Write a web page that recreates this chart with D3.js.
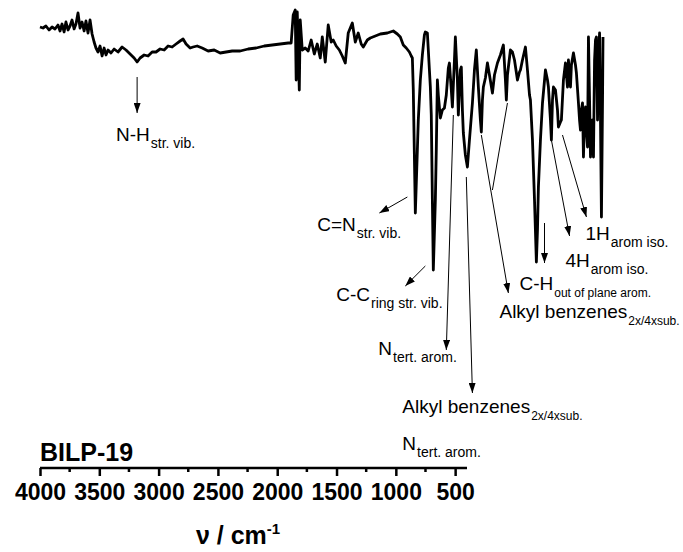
<!DOCTYPE html>
<html><head><meta charset="utf-8">
<script src="https://cdn.jsdelivr.net/npm/d3@7"></script>
<style>body{margin:0;background:#fff} svg{display:block}</style>
</head><body>
<svg id="c" width="683" height="552"></svg>
<script>
// ---- data (wavenumber in cm^-1, transmittance in arbitrary units) ----
const wavenumber = [4000,3981,3962,3942,3923,3904,3885,3872,3859,3846,3834,3821,3808,3795,3782,3770,3757,3744,3731,3718,3706,3693,3680,3667,3654,3642,3629,3616,3603,3590,3578,3565,3546,3526,3501,3475,3450,3424,3398,3379,3360,3334,3309,3283,3258,3232,3206,3181,3155,3130,3104,3085,3066,3040,3021,2995,2963,2925,2886,2848,2810,2771,2720,2669,2618,2566,2515,2464,2413,2394,2381,2368,2362,2355,2342,2336,2323,2304,2285,2266,2246,2227,2208,2195,2176,2157,2138,2125,2106,2086,2067,2048,2029,2003,1984,1965,1946,1933,1907,1888,1856,1824,1779,1741,1715,1696,1677,1658,1638,1626,1619,1613,1600,1587,1581,1568,1555,1542,1536,1523,1510,1504,1498,1491,1485,1472,1466,1459,1453,1440,1427,1414,1402,1389,1382,1370,1363,1350,1344,1331,1325,1312,1306,1299,1293,1280,1267,1254,1235,1222,1210,1197,1184,1178,1171,1165,1152,1139,1126,1107,1094,1075,1056,1037,1024,1018,1011,992,979,966,947,934,928,915,896,883,870,864,851,838,826,819,813,800,787,768,755,749,736,730,723,717,704,691,685,672,666,653,640,634,627,621,608,602,589,576,570,557,550,544,538,531,525,518,512,506,499,493,486,480,474,467,461,454,448,442,435,429,422,416,410,403,400];
const transmittance = [109.2,108.8,109.6,108,109.2,108.4,110,107.6,110.4,107.2,111.2,108,109.6,112,108.4,110.4,114.8,108.8,111.2,107.6,111.6,106.8,112,106.4,103.2,100.8,99.2,101.6,97.6,100.8,98,100,98.8,100.4,99.2,101.2,100,98.4,96.8,95.2,96.8,98,97.6,99.2,99.2,100.4,100,101.6,101.2,102.4,103.6,104.4,102.4,100.8,101.2,101.6,100.8,99.6,100,98.8,99.2,99.6,99.6,100.4,100.8,101.6,102,102.4,102.8,102.8,114,116,88,115.2,84,112,100,100.8,99.6,104,98.4,102.4,96.8,105.2,95.2,110,103.2,104,101.6,100,97.6,94.8,106.8,110.8,103.2,106.8,102.4,101.2,104,104.8,105.6,106.4,106.8,107.6,106.4,105.2,102,100.8,99.2,97.6,96.8,84,34.8,60,72,88,98,106,107.2,106.8,92,85.2,74,40,12,40,60,88,82,72.8,76,76.8,82,92.8,94.8,84,77.2,96,105.2,88,74,92,93.2,76,66.8,58,53.2,64,78.8,92,100,85.2,72,67.2,80,85.2,88.8,94.8,90,82.8,90,94.8,98,102,88,80,90,100,99.2,96,88,91.2,92,96,101.2,92,82,80,64,40,15.2,28,45.2,64,78.8,92,88,85.2,72,64,80,85.2,84,76,69.2,71.2,72,88,94.8,90,85.2,96,85.2,94,98.8,94,90.8,78.8,72,68,76,78.8,57.2,72,77.2,68,61.2,105.2,80,57.2,68,72,57.2,96,104,105.2,72,96,106.8,72,33.2,80,105.2];
const axisTicks = [4000,3500,3000,2500,2000,1500,1000,500];
const minorTicks = [3750,3250,2750,2250,1750,1250,750];
const sampleName = "BILP-19";
const xTitle = "ν / cm";
const xTitleSup = "-1";
// annotations: label anchor and arrow ends in (wavenumber, transmittance) units
const annoText = [
  {main:"N-H", sub:"str. vib.", at:[3514,63.6], small:false},
  {main:"C=N", sub:"str. vib.", at:[2227,27.6], small:false},
  {main:"C-C", sub:"ring str. vib.", at:[2106,-0.4], small:false},
  {main:"N", sub:"tert. arom.", at:[1837,-22], small:false},
  {main:"Alkyl benzenes", sub:"2x/4xsub.", at:[1683,-45.2], small:true},
  {main:"N", sub:"tert. arom.", at:[1683,-60], small:false},
  {main:"C-H", sub:"out of plane arom.", at:[934,4], small:true},
  {main:"Alkyl benzenes", sub:"2x/4xsub.", at:[1062,-7.2], small:true},
  {main:"4H", sub:"arom iso.", at:[640,13.2], small:false},
  {main:"1H", sub:"arom iso.", at:[512,24], small:false}
];
const annoArrows = [
  {from:[3379,89.2], to:[3379,74.8], head:true},
  {from:[1651,41.2], to:[1830,34.8], head:true},
  {from:[1536,13.6], to:[1664,5.6], head:true},
  {from:[1357,74], to:[1402,-20], head:true},
  {from:[1274,49.2], to:[1235,-37.2], head:true},
  {from:[774,30.8], to:[774,14.8], head:true},
  {from:[1178,66], to:[1005,2.8], head:true},
  {from:[1011,78.8], to:[1107,44], head:false},
  {from:[736,66], to:[614,25.6], head:true},
  {from:[659,66], to:[506,33.2], head:true}
];

// ---- drawing ----
const svg = d3.select("#c");
const FONT = "Arial, 'Liberation Sans', Helvetica, sans-serif";
const x = d3.scaleLinear().domain([4000,400]).range([40,603]);      // spectrum panel
const xAxis = d3.scaleLinear().domain([4000,400]).range([40,467]);  // printed axis (shorter in the figure)
const y = d3.scaleLinear().domain([0,120]).range([300,0]);
const axisY = 468;

svg.append("defs").append("marker")
  .attr("id","ah").attr("markerUnits","userSpaceOnUse")
  .attr("markerWidth",10).attr("markerHeight",7)
  .attr("refX",10).attr("refY",3.5).attr("orient","auto")
  .append("path").attr("d","M0,0 L10,3.5 L0,7 Z").attr("fill","#000");

const pts = wavenumber.map((w,i)=>[w, transmittance[i]]);
svg.append("path").datum(pts)
  .attr("fill","none").attr("stroke","#000").attr("stroke-width",2.8)
  .attr("stroke-linejoin","round")
  .attr("d", d3.line().x(d=>x(d[0])).y(d=>y(d[1])));

// arrows
svg.selectAll("line.arr").data(annoArrows).enter().append("line")
  .attr("class","arr")
  .attr("x1",d=>x(d.from[0])).attr("y1",d=>y(d.from[1]))
  .attr("x2",d=>x(d.to[0])).attr("y2",d=>y(d.to[1]))
  .attr("stroke","#000").attr("stroke-width",1)
  .attr("marker-end",d=>d.head?"url(#ah)":null);

// labels
annoText.forEach(a=>{
  const t = svg.append("text").attr("x",x(a.at[0])).attr("y",y(a.at[1]))
    .attr("font-family",FONT).attr("font-size",19).attr("fill","#000");
  t.append("tspan").text(a.main);
  t.append("tspan").attr("dy",7).attr("dx",1)
    .attr("font-size",a.small?12:14).text(a.sub);
});

// axis
const ax = svg.append("g").attr("transform",`translate(0,${axisY})`);
ax.call(d3.axisBottom(xAxis).tickValues(axisTicks).tickFormat(d3.format("d"))
  .tickSize(8).tickSizeOuter(0).tickPadding(8));
ax.select(".domain").attr("stroke","#000").attr("stroke-width",2.5)
  .attr("d",`M${xAxis(4000)},0H${xAxis(400)}`);
ax.selectAll(".tick line").attr("stroke","#000").attr("stroke-width",2.5);
ax.selectAll(".tick text").attr("font-family",FONT).attr("font-weight","bold")
  .attr("font-size",23).attr("fill","#000");
ax.selectAll("line.minor").data(minorTicks).enter().append("line")
  .attr("class","minor").attr("x1",d=>xAxis(d)).attr("x2",d=>xAxis(d))
  .attr("y1",0).attr("y2",4).attr("stroke","#000").attr("stroke-width",2.5);

svg.append("text").attr("x",xAxis(4000)).attr("y",461)
  .attr("font-family",FONT).attr("font-weight","bold").attr("font-size",25)
  .text(sampleName);

const tt = svg.append("text").attr("x",238).attr("y",544).attr("text-anchor","middle")
  .attr("font-family",FONT).attr("font-weight","bold").attr("font-size",25);
tt.append("tspan").text(xTitle);
tt.append("tspan").attr("dy",-10).attr("font-size",15).text(xTitleSup);
</script>
</body></html>
